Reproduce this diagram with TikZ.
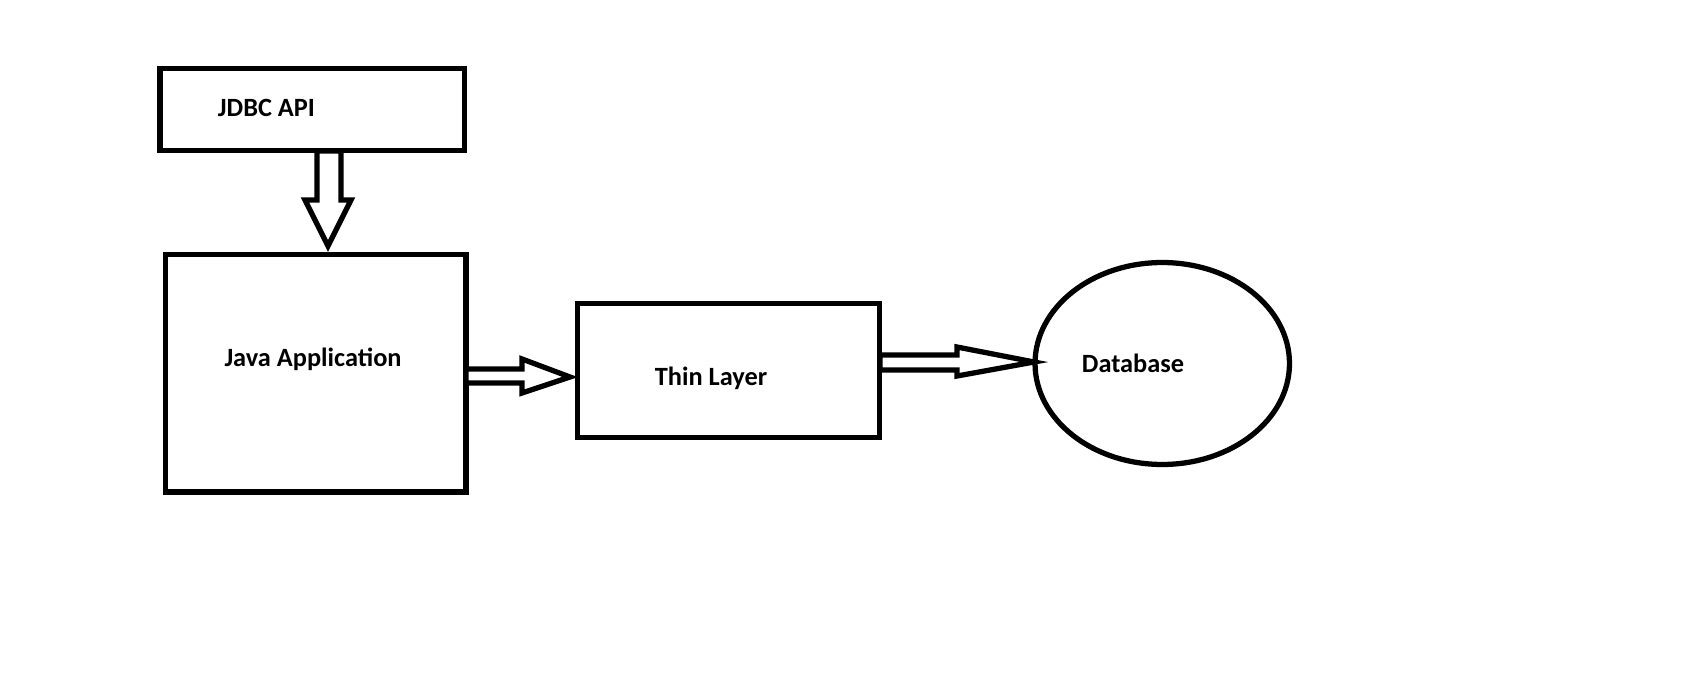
\documentclass[tikz,border=0pt]{standalone}
\usepackage{fontspec}
\setmainfont{Carlito}
\usetikzlibrary{shapes.geometric}

\begin{document}
\begin{tikzpicture}[x=0.02cm, y=-0.02cm, line width=3pt,
    box/.style={draw, rectangle, inner sep=0pt},
    store/.style={draw, ellipse, inner sep=0pt, minimum width=5.09cm, minimum height=4.04cm},
    lbl/.style={font=\fontsize{15}{17}\selectfont\bfseries, inner sep=0pt},
    blockarrow/.style={draw, line join=miter, fill=white}]
    \useasboundingbox (0,0) rectangle (1692,675);
    \node[box, minimum width=6.09cm, minimum height=1.64cm] (jdbc) at (312.25,109.5) {};
    \node[box, minimum width=6.01cm, minimum height=4.75cm] (java) at (315.75,373.25) {};
    \node[box, minimum width=6.04cm, minimum height=2.68cm] (thin) at (728.5,370.5) {};
    \node[store] (db) at (1162.25,363.5) {};
    % labels
    \node[lbl] (jdbclbl) at (266.5,107.5) {JDBC API};
    \node[lbl] (javalbl) at (313,359) {Java Application};
    \node[lbl] (thinlbl) at (711,378) {Thin Layer};
    \node[lbl] (dblbl) at (1133,363) {Database};
    % block arrows
    \draw[blockarrow] (317,151) -- (317,200) -- (305,200) -- (328,246)
        -- (351,200) -- (341,200) -- (341,151) -- cycle;
    \draw[blockarrow] (466,369) -- (522,369) -- (522,359) -- (570,377)
        -- (522,393) -- (522,383) -- (466,383) -- cycle;
    \draw[blockarrow] (880,355) -- (957,355) -- (957,347) -- (1034,362)
        -- (957,376) -- (957,370) -- (880,370) -- cycle;
\end{tikzpicture}
\end{document}
